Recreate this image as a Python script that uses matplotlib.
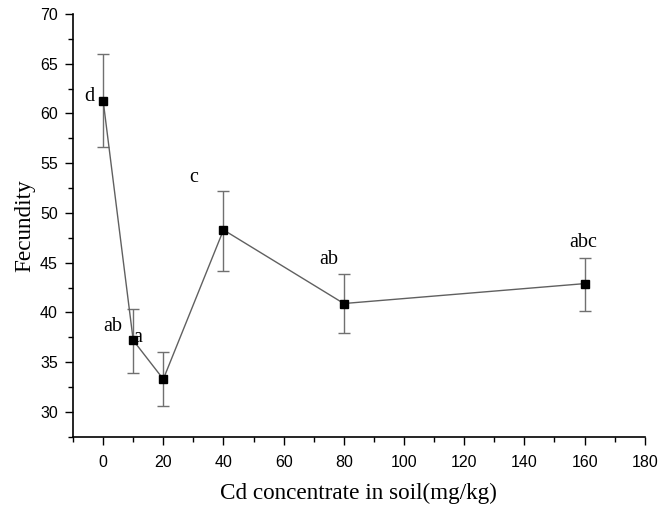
import numpy as np
import matplotlib
matplotlib.use('Agg')
import matplotlib.pyplot as plt
from matplotlib.ticker import MultipleLocator


###### Data
cd_conc = [0, 10, 20, 40, 80, 160]            # mg/kg
fecundity = [61.3, 37.2, 33.3, 48.3, 40.9, 42.9]
err_low = [56.6, 33.9, 30.6, 44.2, 37.9, 40.1]   # lower end of error bar
err_high = [66.0, 40.3, 36.0, 52.2, 43.9, 45.5]  # upper end of error bar

# significance letters and where they sit
letters = ['d', 'ab', 'a', 'c', 'ab', 'abc']
letter_x = [-4.7, 3.3, 11.4, 30.2, 75.0, 159.5]
letter_y = [61.7, 38.6, 37.5, 53.6, 45.3, 47.0]

serif = ['Liberation Serif', 'DejaVu Serif']
sans = ['Liberation Sans', 'DejaVu Sans']


###### Figure
fig = plt.figure(figsize=(6.64, 5.17), dpi=100)
ax = fig.add_axes([0.110, 0.155, 0.861, 0.818])

yerr = [np.array(fecundity) - np.array(err_low),
        np.array(err_high) - np.array(fecundity)]
ax.errorbar(cd_conc, fecundity, yerr=yerr, fmt='none', ecolor='#707070',
            elinewidth=1.0, capsize=4, capthick=1.0, zorder=2)
ax.plot(cd_conc, fecundity, color='#606060', lw=1.0, zorder=3)
ax.plot(cd_conc, fecundity, 's', color='black', ms=5.6, zorder=4)

for lab, lx, ly in zip(letters, letter_x, letter_y):
    ax.text(lx, ly, lab, ha='center', va='center', fontsize=14.5,
            family=serif, color='black', zorder=5)

###### Axes styling
ax.set_xlim(-10, 180)
ax.set_ylim(27.5, 70)
ax.xaxis.set_major_locator(MultipleLocator(20))
ax.xaxis.set_minor_locator(MultipleLocator(10))
ax.yaxis.set_major_locator(MultipleLocator(5))
ax.yaxis.set_minor_locator(MultipleLocator(2.5))
ax.tick_params(which='major', direction='out', length=6, width=1.0,
               labelsize=11.5, pad=5)
ax.tick_params(axis='x', which='major', pad=7)
ax.tick_params(which='minor', direction='out', length=3.5, width=1.0)
for lbl in ax.get_xticklabels() + ax.get_yticklabels():
    lbl.set_family(sans)

ax.spines['top'].set_visible(False)
ax.spines['right'].set_visible(False)
ax.spines['left'].set_linewidth(1.2)
ax.spines['bottom'].set_linewidth(1.2)

ax.set_xlabel('Cd concentrate in soil(mg/kg)', family=serif, fontsize=16.7,
              labelpad=9)
ax.set_ylabel('Fecundity', family=serif, fontsize=16.7, labelpad=3)

fig.savefig('out.png', dpi=100)
